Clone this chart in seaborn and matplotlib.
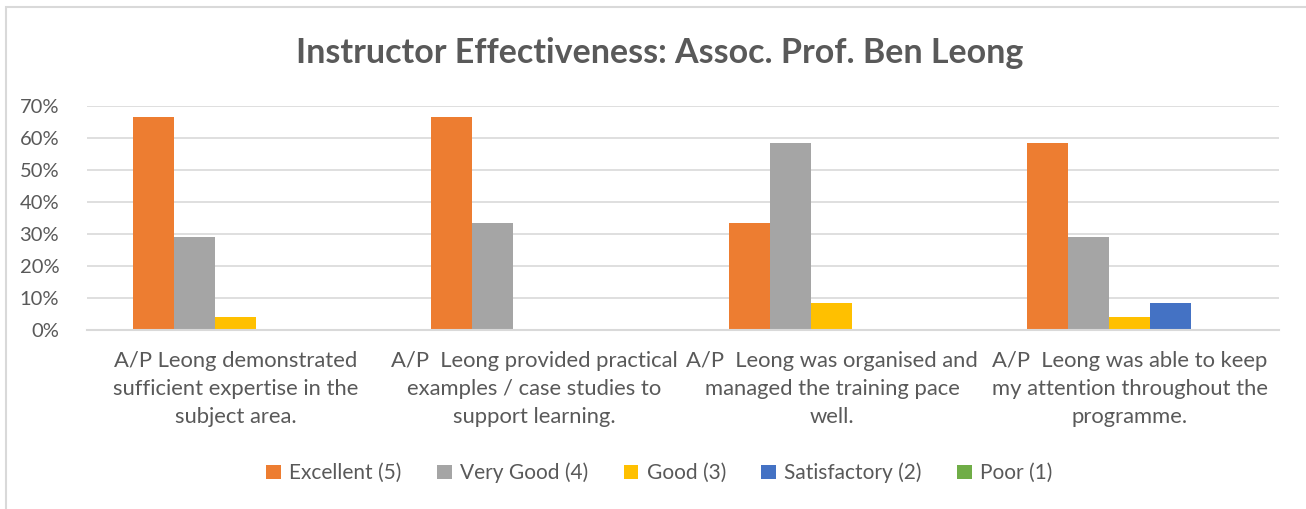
import pandas as pd
import matplotlib.pyplot as plt
import matplotlib.patches as mpatches
import seaborn as sns

sns.set_style('white')
plt.rcParams['font.family'] = ['Lato', 'DejaVu Sans']

questions = [
    "A/P Leong demonstrated\nsufficient expertise in the\nsubject area.",
    "A/P  Leong provided practical\nexamples / case studies to\nsupport learning.",
    "A/P  Leong was organised and\nmanaged the training pace\nwell.",
    "A/P  Leong was able to keep\nmy attention throughout the\nprogramme.",
]
ratings = ["Excellent (5)", "Very Good (4)", "Good (3)", "Satisfactory (2)", "Poor (1)"]
excellent = [0.667, 0.667, 0.333, 0.583]
very_good = [0.292, 0.333, 0.583, 0.292]
good = [0.042, 0.0, 0.083, 0.042]
satisfactory = [0.0, 0.0, 0.0, 0.083]
poor = [0.0, 0.0, 0.0, 0.0]
colors = ['#ED7D31', '#A5A5A5', '#FFC000', '#4472C4', '#70AD47']

rows = []
for rating, vals in zip(ratings, [excellent, very_good, good, satisfactory, poor]):
    for q, v in zip(questions, vals):
        rows.append({'question': q, 'rating': rating, 'share': v})
df = pd.DataFrame(rows)

text_col = '#595959'
fig = plt.figure(figsize=(13.06, 5.09), dpi=100)
ax = fig.add_axes([0.0666, 0.3517, 0.9127, 0.44])

# chart border
fig.patches.append(mpatches.Rectangle((6 / 1306, -0.1), 1.2, 1 - 7 / 509 + 0.1,
                                      transform=fig.transFigure, fill=False,
                                      edgecolor='#D9D9D9', linewidth=1.5))

sns.barplot(data=df, x='question', y='share', hue='rating', hue_order=ratings,
            palette=colors, saturation=1, width=0.688, gap=0,
            edgecolor='none', linewidth=0, ax=ax, legend=True)

ax.set_ylim(0, 0.7)
ax.set_xlim(-0.5, 3.5)
ax.set_yticks([i / 10 for i in range(8)])
ax.set_yticklabels([f"{i * 10}%" for i in range(8)])
ax.yaxis.grid(True, color='#D9D9D9', linewidth=1.2)
ax.set_axisbelow(True)
for s in ['top', 'right', 'left']:
    ax.spines[s].set_visible(False)
ax.spines['bottom'].set_color('#D9D9D9')
ax.spines['bottom'].set_linewidth(1.5)
ax.tick_params(axis='y', length=0, labelsize=14.5, colors=text_col, pad=20)
ax.tick_params(axis='x', length=0, labelsize=15.8, colors=text_col, pad=15)
for lbl in ax.get_xticklabels():
    lbl.set_linespacing(1.52)
ax.set_xlabel('')
ax.set_ylabel('')

fig.suptitle('Instructor Effectiveness: Assoc. Prof. Ben Leong', x=0.505, y=0.927,
             fontsize=24.5, fontweight='bold', color=text_col)

handles, labels = ax.get_legend_handles_labels()
ax.legend(handles, labels, loc='center', bbox_to_anchor=(0.505, 0.071),
          bbox_transform=fig.transFigure, ncol=5, frameon=False,
          fontsize=15, labelcolor=text_col, handlelength=0.7, handleheight=0.7,
          handletextpad=0.4, columnspacing=1.7)

plt.savefig('out.png', dpi=100)
